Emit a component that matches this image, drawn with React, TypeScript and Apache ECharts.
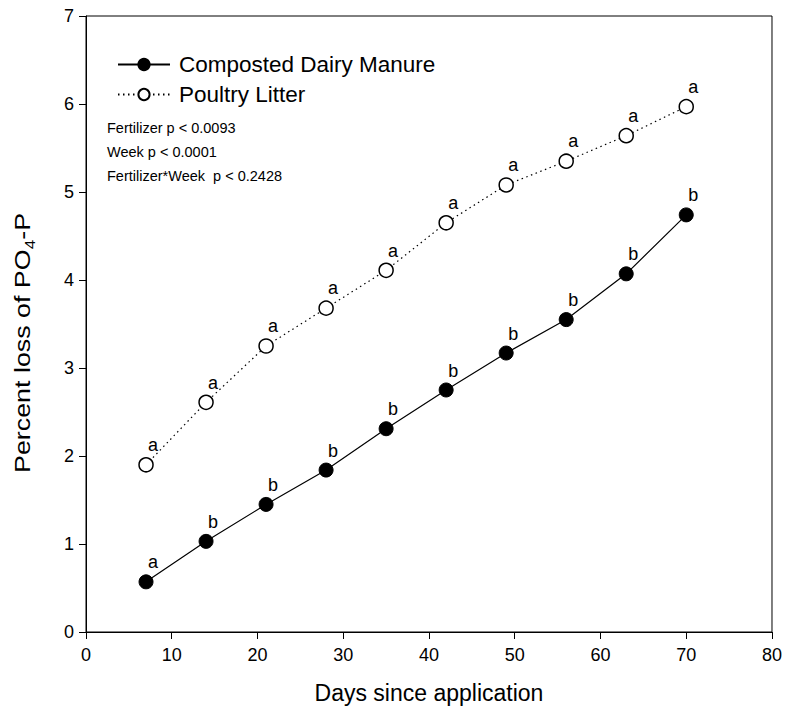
import React, { useEffect, useRef } from "react";
import * as echarts from "echarts";

const days = [7, 14, 21, 28, 35, 42, 49, 56, 63, 70];
const dairy = [0.57, 1.03, 1.45, 1.84, 2.31, 2.75, 3.17, 3.55, 4.07, 4.74];
const poultry = [1.9, 2.61, 3.25, 3.68, 4.11, 4.65, 5.08, 5.35, 5.64, 5.97];
const dairyLetters = ["a", "b", "b", "b", "b", "b", "b", "b", "b", "b"];
const poultryLetters = ["a", "a", "a", "a", "a", "a", "a", "a", "a", "a"];
const statsLines = ["Fertilizer p < 0.0093", "Week p < 0.0001", "Fertilizer*Week  p < 0.2428"];

const FONT = "Liberation Sans, Arial, sans-serif";

export default function App() {
  const ref = useRef<HTMLDivElement>(null);
  useEffect(() => {
    const chart = echarts.init(ref.current!, null, { renderer: "svg" });
    const mk = (vals: number[]) => days.map((d, i) => [d, vals[i]]);
    const labelCfg = (letters: string[]) => ({
      show: true,
      position: "top",
      distance: 3,
      offset: [7, 0],
      color: "#000",
      fontSize: 18,
      fontWeight: "normal",
      fontFamily: FONT,
      formatter: (p: any) => letters[p.dataIndex],
    });
    chart.setOption({
      animation: false,
      backgroundColor: "#fff",
      grid: {
        left: 86,
        right: 11,
        top: 16,
        bottom: 83,
        show: true,
        borderColor: "#000",
        borderWidth: 1,
      },
      legend: {
        left: 112,
        top: 48,
        orient: "vertical",
        itemWidth: 52,
        itemHeight: 14,
        itemGap: 7,
        textStyle: { fontSize: 22.5, fontFamily: FONT, color: "#000", padding: [0, 0, 0, 4] },
        data: ["Composted Dairy Manure", "Poultry Litter"],
      },
      xAxis: {
        type: "value",
        min: 0,
        max: 80,
        interval: 10,
        name: "Days since application",
        nameLocation: "middle",
        nameGap: 49,
        nameTextStyle: { fontSize: 23, fontFamily: FONT, color: "#000" },
        axisLine: { show: true, lineStyle: { color: "#000", width: 1 } },
        axisTick: { show: true, length: 7, lineStyle: { color: "#000" } },
        axisLabel: { color: "#000", fontSize: 18, fontFamily: FONT, margin: 14 },
        splitLine: { show: false },
      },
      yAxis: {
        type: "value",
        min: 0,
        max: 7,
        interval: 1,
        axisLine: { show: true, lineStyle: { color: "#000", width: 1 } },
        axisTick: { show: true, length: 7, lineStyle: { color: "#000" } },
        axisLabel: { color: "#000", fontSize: 18, fontFamily: FONT, margin: 12 },
        splitLine: { show: false },
      },
      graphic: [
        {
          type: "text",
          x: 22,
          y: 343,
          rotation: Math.PI / 2,
          scaleX: 1.22,
          style: {
            text: "Percent loss of PO{sub|4}-P",
            fontSize: 22,
            fontFamily: FONT,
            fill: "#000",
            align: "center",
            verticalAlign: "middle",
            rich: {
              sub: { fontSize: 14, fontFamily: FONT, fill: "#000", verticalAlign: "bottom", padding: [16, 0, 0, 0] },
            },
          },
        },
        ...statsLines.map((t, i) => ({
          type: "text",
          left: 107,
          top: 120 + i * 24,
          style: { text: t, fontSize: 14.5, fontFamily: FONT, fill: "#000" },
        })),
      ],
      series: [
        {
          name: "Composted Dairy Manure",
          type: "line",
          data: mk(dairy),
          symbol: "circle",
          symbolSize: 14,
          itemStyle: { color: "#000", borderColor: "#000", borderWidth: 1 },
          lineStyle: { color: "#000", width: 1.2, type: "solid" },
          label: labelCfg(dairyLetters),
          z: 3,
        },
        {
          name: "Poultry Litter",
          type: "line",
          data: mk(poultry),
          symbol: "circle",
          symbolSize: 14,
          itemStyle: { color: "#fff", borderColor: "#000", borderWidth: 1.5 },
          lineStyle: { color: "#000", width: 1.2, type: [1.5, 3.5] },
          label: labelCfg(poultryLetters),
          z: 3,
        },
      ],
    });
    return () => chart.dispose();
  }, []);
  return (
    <div
      ref={ref}
      style={{ position: "fixed", left: 0, top: 0, width: 785, height: 715, background: "#fff" }}
    />
  );
}
